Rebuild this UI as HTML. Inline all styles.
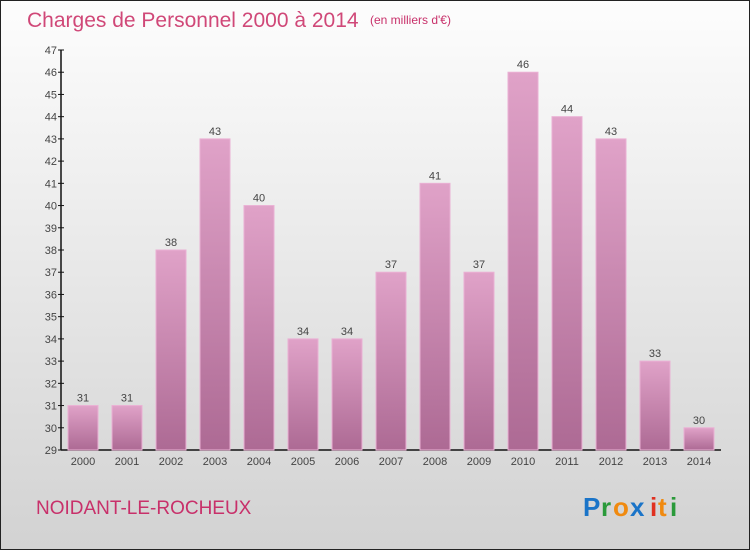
<!DOCTYPE html>
<html><head><meta charset="utf-8"><style>
body{margin:0;width:750px;height:550px;overflow:hidden;font-family:"Liberation Sans",sans-serif}
</style></head><body>
<svg width="750" height="550" xmlns="http://www.w3.org/2000/svg">
<defs>
<linearGradient id="bg" x1="0" y1="0" x2="0" y2="1"><stop offset="0" stop-color="#fdfdfd"/><stop offset="1" stop-color="#d2d2d2"/></linearGradient>
<linearGradient id="bar" x1="0" y1="0" x2="0" y2="1"><stop offset="0" stop-color="#e0a2c8"/><stop offset="1" stop-color="#ad6a94"/></linearGradient>
</defs>
<rect x="0.5" y="0.5" width="749" height="549" fill="url(#bg)" stroke="#222"/>
<text x="27" y="27" font-size="21" fill="#d04878">Charges de Personnel 2000 à 2014</text>
<text x="370" y="24" font-size="12" fill="#c8306a">(en milliers d'€)</text>
<g id="axes"></g>
<g id="bars"></g>
<text x="36" y="514" font-size="19" fill="#c8306a">NOIDANT-LE-ROCHEUX</text>
<g font-size="26" font-weight="bold">
<text x="583" y="516" fill="#1a74c8">P</text><text x="601" y="516" fill="#2a9a3a">r</text><text x="613" y="516" fill="#f08a10">o</text><text x="630" y="516" fill="#1a74c8">x</text><text x="650" y="516" fill="#e03020">i</text><text x="658" y="516" fill="#f08a10">t</text><text x="670" y="516" fill="#2a9a3a">i</text>
</g>
</svg>
<script>
const years=["2000","2001","2002","2003","2004","2005","2006","2007","2008","2009","2010","2011","2012","2013","2014"];
const values=[31,31,38,43,40,34,34,37,41,37,46,44,43,33,30];
const yTicks=[29,30,31,32,33,34,35,36,37,38,39,40,41,42,43,44,45,46,47];
const NS="http://www.w3.org/2000/svg";
const y0=450,yTop=50,yMin=29,yMax=47,xL=61,xR=721;
function y(v){return y0-(v-yMin)/(yMax-yMin)*(y0-yTop);}
function xc(i){return 83+i*44;}
function mk(t,a,p){const e=document.createElementNS(NS,t);for(const k in a)e.setAttribute(k,a[k]);p.appendChild(e);return e;}
const ax=document.getElementById('axes'),bg=document.getElementById('bars');
let l=mk('line',{x1:xL,y1:yTop,x2:xL,y2:y0,stroke:'#111','stroke-width':1.5},ax);


l=mk('line',{x1:xL,y1:y0,x2:xR,y2:y0,stroke:'#111','stroke-width':1.5},ax);


yTicks.forEach(v=>{
 mk('line',{x1:xL-3,y1:y(v),x2:xL+3,y2:y(v),stroke:'#111'},ax);
 const t=mk('text',{x:xL-4,y:y(v)+4,'font-size':11,fill:'#444','text-anchor':'end'},ax);t.textContent=v;
 
 
});
years.forEach((yr,i)=>{
 const v=values[i],x=xc(i);
 const r=mk('rect',{x:x-15,y:y(v),width:30,height:y0-y(v),fill:'url(#bar)',stroke:'#eab0d4','stroke-width':1},bg);
 
 
 const t=mk('text',{x:x,y:y(v)-4,'font-size':11,fill:'#444','text-anchor':'middle'},bg);t.textContent=v;
 
 
 const xl=mk('text',{x:x,y:465,'font-size':11,fill:'#444','text-anchor':'middle'},ax);xl.textContent=yr;
 
 
});
</script>
</body></html>
